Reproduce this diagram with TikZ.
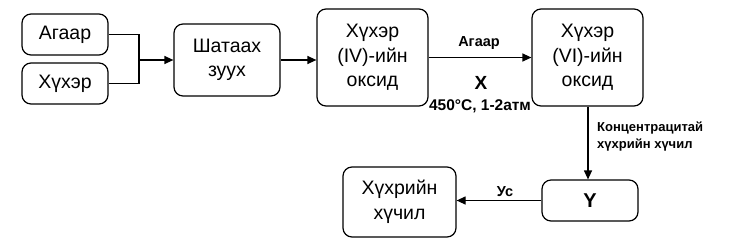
\documentclass[tikz,border=0pt]{standalone}
\usepackage{fontspec}
\setmainfont{Liberation Sans}
\usetikzlibrary{arrows.meta}
\begin{document}
\begin{tikzpicture}[x=1pt,y=-1pt,
  box/.style={draw,line width=1.2pt,rounded corners=9pt,align=center,inner sep=0pt,font=\fontsize{19.5}{24.5}\selectfont},
  conn/.style={line width=1.2pt},
  arr/.style={line width=1.2pt,-{Triangle[length=9pt,width=8pt]}},
  lbl/.style={font=\fontsize{14.5}{17}\selectfont\bfseries,inner sep=0pt}]
\useasboundingbox (0,0) rectangle (738,250);
\node[box,minimum width=86,minimum height=41] (agaar) at (65,34.5) {Агаар};
\node[box,minimum width=86,minimum height=41] (hukher) at (65,83.5) {Хүхэр};
\node[box,minimum width=106,minimum height=72] (zuuh) at (227,60) {Шатаах\\зуух};
\node[box,minimum width=111,minimum height=97] (iv) at (372.5,57.5) {Хүхэр\\(IV)-ийн\\оксид};
\node[box,minimum width=111,minimum height=97] (vi) at (587.5,57.5) {Хүхэр\\(VI)-ийн\\оксид};
\node[box,minimum width=96,minimum height=41,font=\fontsize{20}{23}\selectfont\bfseries] (y) at (590,200.5) {Y};
\node[box,minimum width=113,minimum height=70] (acid) at (399.5,202) {Хүхрийн\\хүчил};
\coordinate (j) at (139,60);
\draw[conn] (agaar.east) -| (j);
\draw[conn] (hukher.east) -| (j);
\draw[arr] (j) -- (zuuh.west);
\draw[arr] (zuuh.east) -- (iv.west |- zuuh.east);
\draw[arr] (iv.east) -- (vi.west);
\draw[arr] (vi.south -| 588,0) -- (y.north -| 588,0);
\draw[arr] (y.west) -- (acid.east |- y.west);
\node[lbl] (l1) at (479,43) {Агаар};
\node[lbl,font=\fontsize{19}{20}\selectfont\bfseries] (lx) at (481,83) {X};
\node[lbl,font=\fontsize{15.5}{17}\selectfont\bfseries] (l2) at (480,106) {450°C, 1-2атм};
\node[lbl,align=left,anchor=west,font=\fontsize{13}{17}\selectfont\bfseries] (l3) at (597,136.5) {Концентрацитай\\хүхрийн хүчил};
\node[lbl] (l4) at (505,192) {Ус};
\end{tikzpicture}
\end{document}
